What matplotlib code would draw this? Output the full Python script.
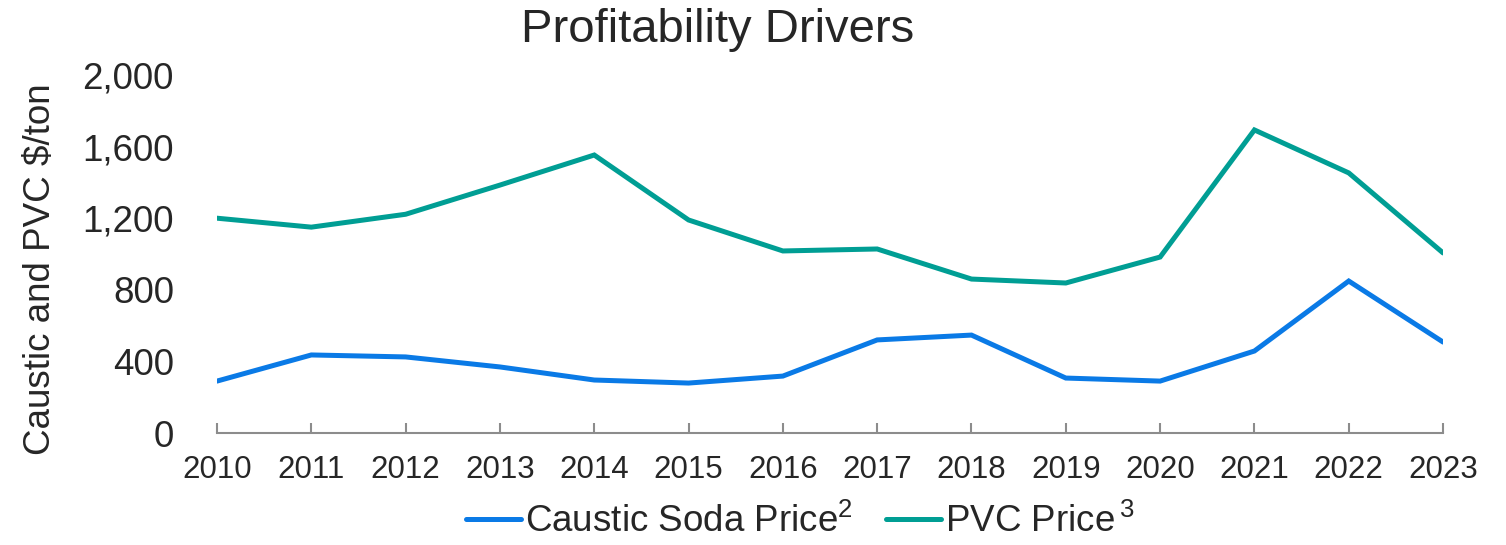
import matplotlib.pyplot as plt
from matplotlib.ticker import FuncFormatter

plt.rcParams["font.family"] = ["Liberation Sans", "DejaVu Sans"]
plt.rcParams["mathtext.default"] = "regular"

TEXT_COLOR = "#262626"
AXIS_COLOR = "#8c8c8c"

years = [2010, 2011, 2012, 2013, 2014, 2015, 2016,
         2017, 2018, 2019, 2020, 2021, 2022, 2023]

caustic_soda = [290, 436, 425, 369, 296, 279, 318,
                520, 547, 307, 290, 458, 849, 508]

pvc = [1200, 1150, 1222, 1385, 1553, 1190, 1017,
       1028, 860, 838, 983, 1693, 1453, 1006]

y_ticks = [0, 400, 800, 1200, 1600, 2000]


fig = plt.figure(figsize=(15.06, 5.45), dpi=100)
ax = fig.add_axes([0.1441, 0.2055, 0.8141, 0.6569])

ax.plot(years, caustic_soda, color="#0a7ae6", lw=3.6,
        solid_capstyle="round", solid_joinstyle="miter",
        label="Caustic Soda Price$^{2}$")
ax.plot(years, pvc, color="#009e94", lw=3.6,
        solid_capstyle="round", solid_joinstyle="miter",
        label="PVC Price$^{\\,3}$")

ax.set_xlim(years[0], years[-1])
ax.set_ylim(0, 2000)
ax.set_xticks(years)
ax.set_yticks(y_ticks)
ax.yaxis.set_major_formatter(FuncFormatter(lambda v, p: f"{int(v):,}"))

for side in ["top", "right", "left"]:
    ax.spines[side].set_visible(False)
ax.spines["bottom"].set_color(AXIS_COLOR)
ax.spines["bottom"].set_linewidth(1.5)

ax.tick_params(axis="x", direction="in", length=7, width=1.5,
               color=AXIS_COLOR, labelsize=22.5, labelcolor=TEXT_COLOR, pad=16)
ax.tick_params(axis="y", length=0, labelsize=26.5, labelcolor=TEXT_COLOR, pad=31)

ax.set_ylabel("Caustic and PVC $/ton", fontsize=26.5, color=TEXT_COLOR)
ax.yaxis.set_label_coords(-0.130, 0.457)

fig.text(718 / 1506, 1 - 30 / 545, "Profitability Drivers",
         fontsize=34, color=TEXT_COLOR, ha="center", va="center")

leg = ax.legend(loc="center", bbox_to_anchor=(800 / 1506, 1 - 522 / 545),
                bbox_transform=fig.transFigure, ncol=2, frameon=False,
                fontsize=26.5, handlelength=1.5, handletextpad=0.1,
                columnspacing=0.9, labelcolor=TEXT_COLOR,
                borderaxespad=0, borderpad=0)

fig.savefig("out.png", dpi=100)
